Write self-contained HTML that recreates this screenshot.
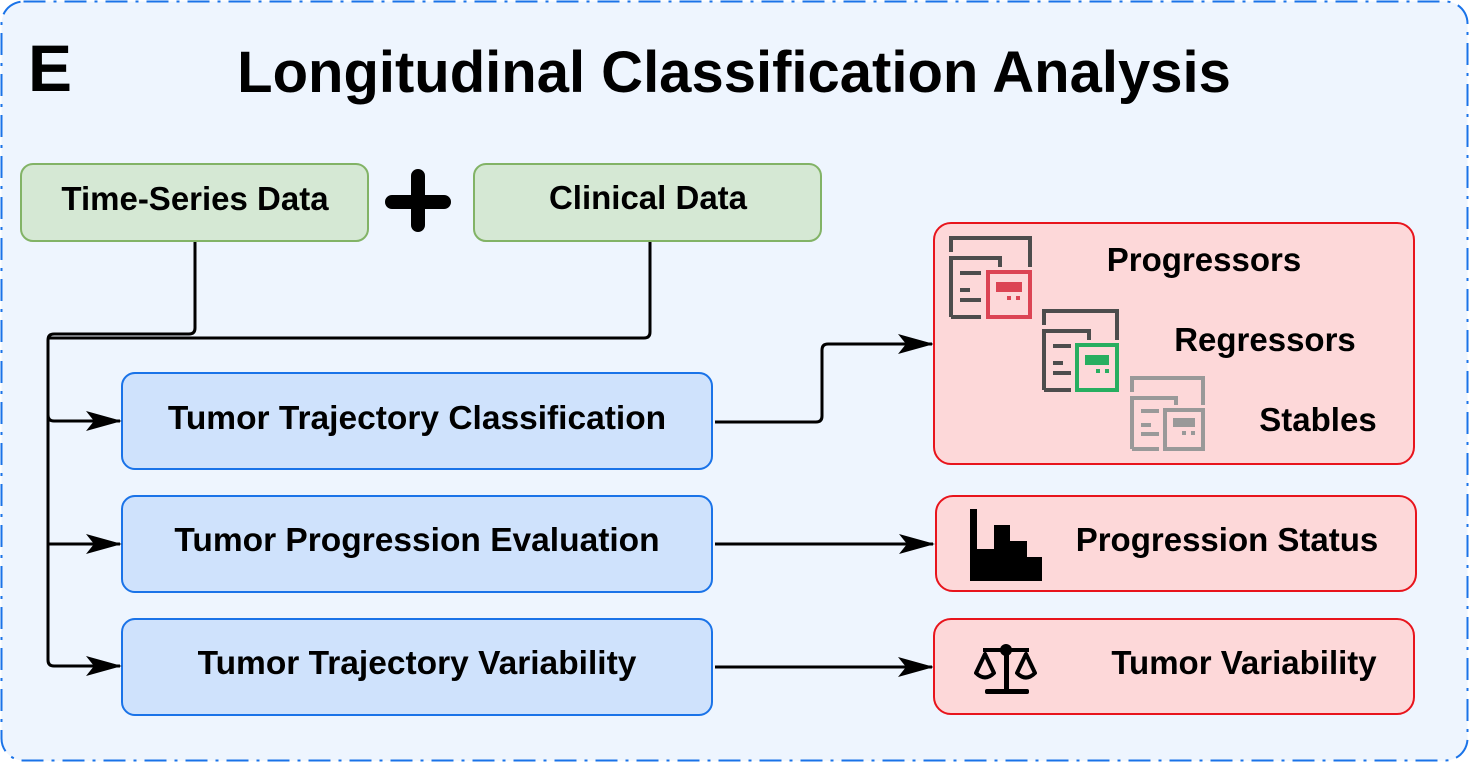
<!DOCTYPE html>
<html><head><meta charset="utf-8"><style>
body{margin:0;width:1470px;height:763px;overflow:hidden;background:#fff}
text{font-family:"Liberation Sans",sans-serif;font-weight:bold;fill:#000}
</style></head><body>
<svg width="1470" height="763" viewBox="0 0 1470 763" xmlns="http://www.w3.org/2000/svg">
<defs>
<marker id="ah" markerWidth="36" markerHeight="20" refX="34" refY="10" orient="auto" markerUnits="userSpaceOnUse"><path d="M0,0 L36,10 L0,20 L8,10 Z" fill="#000"/></marker>
</defs>
<rect x="1.5" y="1.5" width="1466" height="759" rx="22" fill="#eef5fe" stroke="#1a73e8" stroke-width="2" stroke-dasharray="22,8,3,8"/>
<text x="28" y="91" font-size="66">E</text>
<text x="734" y="92" font-size="58" text-anchor="middle">Longitudinal Classification Analysis</text>

<rect x="21" y="164" width="347" height="77" rx="12" fill="#d5e8d4" stroke="#82b366" stroke-width="2"/>
<text x="195" y="210" font-size="33" text-anchor="middle">Time-Series Data</text>
<rect x="474" y="164" width="347" height="77" rx="12" fill="#d5e8d4" stroke="#82b366" stroke-width="2"/>
<text x="648" y="209" font-size="33" text-anchor="middle">Clinical Data</text>
<path d="M418,176 V225 M392,202 H444" stroke="#000" stroke-width="14" stroke-linecap="round"/>

<rect x="122" y="373" width="590" height="96" rx="13" fill="#cfe2fc" stroke="#1a73e8" stroke-width="2"/>
<text x="417" y="429" font-size="33.5" text-anchor="middle">Tumor Trajectory Classification</text>
<rect x="122" y="496" width="590" height="96" rx="13" fill="#cfe2fc" stroke="#1a73e8" stroke-width="2"/>
<text x="417" y="551" font-size="33.5" text-anchor="middle">Tumor Progression Evaluation</text>
<rect x="122" y="619" width="590" height="96" rx="13" fill="#cfe2fc" stroke="#1a73e8" stroke-width="2"/>
<text x="417" y="674" font-size="33.5" text-anchor="middle">Tumor Trajectory Variability</text>

<g fill="none" stroke="#000" stroke-width="3">
<path d="M195,242 V328 Q195,334 189,334 H54 Q48,334 48,340 V660 Q48,666 54,666 H120" marker-end="url(#ah)"/>
<path d="M650,242 V332 Q650,338 644,338 H48"/>
<path d="M48,415 Q48,421 54,421 H120" marker-end="url(#ah)"/>
<path d="M48,544 H120" marker-end="url(#ah)"/>
<path d="M715,422 H816 Q822,422 822,416 V350 Q822,344 828,344 H932" marker-end="url(#ah)"/>
<path d="M715,544 H933" marker-end="url(#ah)"/>
<path d="M715,667 H932" marker-end="url(#ah)"/>
</g>

<rect x="934" y="223" width="480" height="241" rx="17" fill="#fdd8d9" stroke="#e8141c" stroke-width="2"/>
<rect x="936" y="496" width="480" height="95" rx="17" fill="#fdd8d9" stroke="#e8141c" stroke-width="2"/>
<rect x="934" y="619" width="480" height="95" rx="17" fill="#fdd8d9" stroke="#e8141c" stroke-width="2"/>
<text x="1204" y="271" font-size="33" text-anchor="middle">Progressors</text>
<text x="1265" y="351" font-size="33" text-anchor="middle">Regressors</text>
<text x="1318" y="431" font-size="33" text-anchor="middle">Stables</text>
<text x="1227" y="551" font-size="33" text-anchor="middle">Progression Status</text>
<text x="1244" y="674" font-size="33" text-anchor="middle">Tumor Variability</text>

<g transform="translate(950,237)" fill="none" stroke-width="4">
<path d="M1,15 V1 H80 V30 M1,80 V21 H50 V30 M1,80 H31 M10,36 H31 M10,53 H20 M10,63 H31" stroke="#4d4d4d"/>
<rect x="38" y="35" width="42" height="45" stroke="#dc4454"/>
<rect x="46" y="45" width="26" height="10" fill="#dc4454" stroke="none"/>
<rect x="57" y="59" width="4" height="4" fill="#dc4454" stroke="none"/><rect x="66" y="59" width="4" height="4" fill="#dc4454" stroke="none"/>
</g>
<g transform="translate(1043,310)" fill="none" stroke-width="4">
<path d="M1,15 V1 H74 V30 M1,80 V21 H46 V30 M1,80 H28 M10,36 H28 M10,53 H20 M10,63 H28" stroke="#4d4d4d"/>
<rect x="34" y="35" width="40" height="45" stroke="#27ae60"/>
<rect x="42" y="45" width="24" height="10" fill="#27ae60" stroke="none"/>
<rect x="53" y="59" width="4" height="4" fill="#27ae60" stroke="none"/><rect x="62" y="59" width="4" height="4" fill="#27ae60" stroke="none"/>
</g>
<g transform="translate(1131,377)" fill="none" stroke-width="4">
<path d="M1,15 V1 H72 V28 M1,72 V21 H45 V28 M1,72 H28 M10,34 H28 M10,48 H20 M10,57 H28" stroke="#999"/>
<rect x="34" y="33" width="38" height="39" stroke="#999"/>
<rect x="42" y="41" width="22" height="9" fill="#999" stroke="none"/>
<rect x="51" y="54" width="4" height="4" fill="#999" stroke="none"/><rect x="60" y="54" width="4" height="4" fill="#999" stroke="none"/>
</g>

<path d="M970,509 H977 V549 H994 V525 H1010 V541 H1027 V557 H1042 V581 H970 Z" fill="#000"/>
<g transform="translate(973,640)" fill="#000" stroke="#000">
<rect x="10" y="8" width="46" height="4" stroke="none"/>
<circle cx="33" cy="10" r="6" stroke="none"/>
<rect x="31" y="10" width="5" height="42" stroke="none"/>
<rect x="12" y="49" width="44" height="5" rx="2" stroke="none"/>
<path d="M12,14 L3,33 Q12,42 21,33 Z M53,14 L44,33 Q53,42 62,33 Z" fill="none" stroke-width="4" stroke-linejoin="round"/>
</g>
</svg>
</body></html>
